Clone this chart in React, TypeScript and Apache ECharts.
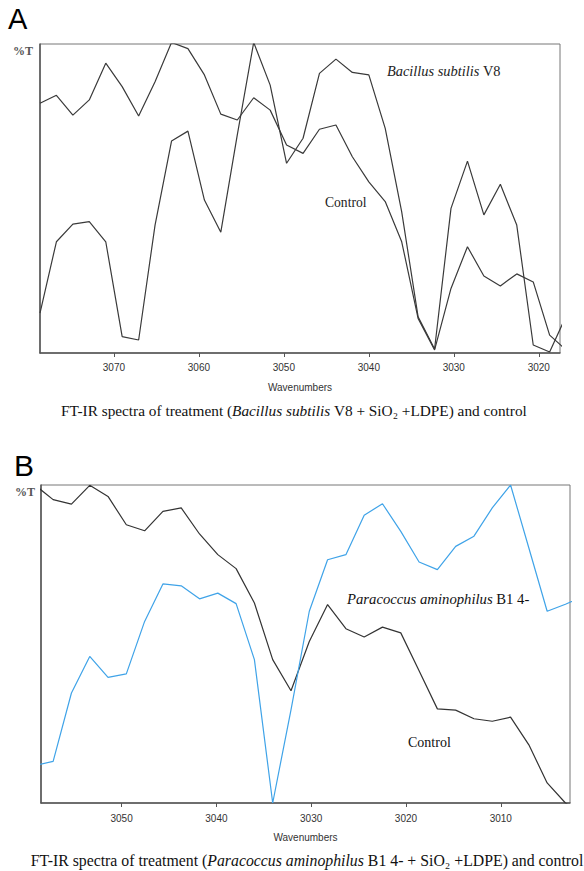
import React, { useEffect, useRef } from 'react';
import * as echarts from 'echarts';

// ---------- Panel A data (wavenumbers in cm-1, %T on a 0-100 scale) ----------
const A_WAVENUMBERS = [
  3078.70, 3076.77, 3074.83, 3072.90, 3070.96, 3069.03, 3067.09, 3065.16, 3063.22, 3061.29,
  3059.35, 3057.42, 3055.48, 3053.55, 3051.61, 3049.68, 3047.74, 3045.81, 3043.87, 3041.94,
  3040.00, 3038.07, 3036.13, 3034.20, 3032.26, 3030.33, 3028.39, 3026.46, 3024.52, 3022.59,
  3020.65, 3018.72, 3016.78,
];
const A_BACILLUS = [
  12.9, 36.0, 41.7, 42.5, 36.0, 5.3, 4.2, 41.4, 68.6, 71.8,
  49.5, 39.1, 70.6, 100.5, 86.7, 61.4, 69.5, 90.5, 95.1, 90.8,
  90.0, 72.7, 45.7, 11.7, 1.3, 46.8, 62.1, 44.7, 54.6, 41.4,
  2.6, 0.3, 12.0,
];
const A_CONTROL = [
  80.8, 83.4, 77.0, 81.9, 93.8, 86.2, 76.7, 87.8, 100.5, 98.5,
  90.0, 77.3, 75.4, 82.6, 78.6, 67.3, 64.6, 72.4, 73.8, 63.5,
  55.4, 49.0, 36.0, 11.2, 1.0, 20.9, 34.4, 24.9, 21.7, 25.6,
  23.0, 5.8, 1.0,
];
const A_TICKS = [3070, 3060, 3050, 3040, 3030, 3020];

// ---------- Panel B data ----------
const B_WAVENUMBERS = [
  3059.15, 3057.22, 3055.29, 3053.36, 3051.43, 3049.50, 3047.57, 3045.64, 3043.71, 3041.78,
  3039.85, 3037.92, 3035.99, 3034.06, 3032.13, 3030.20, 3028.27, 3026.34, 3024.41, 3022.48,
  3020.55, 3018.62, 3016.69, 3014.76, 3012.83, 3010.90, 3008.97, 3007.04, 3005.11, 3003.18,
  3001.25,
];
const B_PARACOCCUS = [
  11.8, 13.1, 34.6, 46.1, 39.5, 40.6, 57.1, 68.9, 68.3, 64.2,
  66.0, 62.7, 45.1, 0.0, 29.3, 60.3, 76.5, 78.1, 90.5, 94.1,
  85.4, 75.8, 73.4, 80.7, 83.9, 92.8, 100.0, 80.2, 60.3, 62.5,
  65.0,
];
const B_CONTROL = [
  100.0, 95.4, 94.0, 99.9, 96.4, 87.5, 85.6, 91.7, 92.8, 84.6,
  78.1, 73.7, 62.9, 45.1, 35.3, 50.8, 62.4, 54.8, 52.2, 55.3,
  53.5, 41.6, 29.6, 29.2, 26.5, 25.7, 27.0, 18.3, 6.3, 0.0,
  -4.0,
];
const B_TICKS = [3050, 3040, 3030, 3020, 3010];

const SANS = '"Liberation Sans", Arial, sans-serif';
const SERIF = '"Liberation Serif", "Times New Roman", serif';

const zip = (xs: number[], ys: number[]) => xs.map((x, i) => [x, ys[i]]);

function xAxisFor(grid: number, min: number, max: number, ticks: number[], margin: number) {
  return {
    type: 'value',
    gridIndex: grid,
    min,
    max,
    inverse: true,
    axisLine: { show: true, onZero: false, lineStyle: { color: '#555', width: 1.5 } },
    axisTick: { show: true, length: 4, customValues: ticks, lineStyle: { color: '#555', width: 1 } },
    axisLabel: {
      customValues: ticks,
      margin,
      fontSize: 10,
      fontFamily: SANS,
      color: '#333',
      formatter: (v: number) => String(Math.round(v)),
    },
    splitLine: { show: false },
    name: 'Wavenumbers',
    nameLocation: 'middle',
    nameGap: 29,
    nameTextStyle: { fontSize: 10, fontFamily: SANS, color: '#333' },
  };
}

function yAxisFor(grid: number) {
  return {
    type: 'value',
    gridIndex: grid,
    min: 0,
    max: 100,
    axisLine: { show: true, lineStyle: { color: '#555', width: 1.5 } },
    axisTick: { show: false },
    axisLabel: { show: false },
    splitLine: { show: false },
  };
}

function lineSeries(grid: number, data: number[][], color: string, name: string) {
  return {
    type: 'line',
    name,
    xAxisIndex: grid,
    yAxisIndex: grid,
    data,
    symbol: 'none',
    showSymbol: false,
    clip: true,
    silent: true,
    lineStyle: { color, width: 1.2 },
  };
}

function richText(x: number, y: number, text: string, size: number, fill: string, align = 'left') {
  return {
    type: 'text',
    x,
    y,
    style: {
      text,
      align,
      verticalAlign: 'middle',
      fill,
      fontSize: size,
      fontFamily: SERIF,
      rich: {
        i: { fontStyle: 'italic', fontSize: size, fontFamily: SERIF, fill },
        n: { fontSize: size, fontFamily: SERIF, fill },
      },
    },
  };
}

export default function App() {
  const ref = useRef<HTMLDivElement>(null);

  useEffect(() => {
    if (!ref.current) return;
    const chart = echarts.init(ref.current, undefined, { renderer: 'svg' });
    chart.setOption({
      animation: false,
      backgroundColor: '#ffffff',
      grid: [
        { left: 40, top: 44, width: 520, height: 309, show: true, borderColor: '#777', borderWidth: 1 },
        { left: 41, top: 485, width: 529, height: 318, show: true, borderColor: '#777', borderWidth: 1 },
      ],
      xAxis: [
        xAxisFor(0, 3017.5, 3078.7, A_TICKS, 9),
        xAxisFor(1, 3002.7, 3058.5, B_TICKS, 10),
      ],
      yAxis: [yAxisFor(0), yAxisFor(1)],
      series: [
        lineSeries(0, zip(A_WAVENUMBERS, A_BACILLUS), '#3a3a3a', 'Bacillus subtilis V8'),
        lineSeries(0, zip(A_WAVENUMBERS, A_CONTROL), '#3a3a3a', 'Control'),
        lineSeries(1, zip(B_WAVENUMBERS, B_CONTROL), '#333333', 'Control'),
        lineSeries(1, zip(B_WAVENUMBERS, B_PARACOCCUS), '#3fa3e8', 'Paracoccus aminophilus B1 4-'),
      ],
      graphic: [
        { type: 'text', x: 8, y: 19, style: { text: 'A', fontSize: 29, fontFamily: SANS, fill: '#000', align: 'left', verticalAlign: 'middle' } },
        { type: 'text', x: 14, y: 465, style: { text: 'B', fontSize: 30, fontFamily: SANS, fill: '#000', align: 'left', verticalAlign: 'middle' } },
        { type: 'text', x: 33, y: 51, style: { text: '%T', fontSize: 12, fontWeight: 'bold', fontFamily: SERIF, fill: '#555', align: 'right', verticalAlign: 'middle' } },
        { type: 'text', x: 35, y: 492, style: { text: '%T', fontSize: 12, fontWeight: 'bold', fontFamily: SERIF, fill: '#555', align: 'right', verticalAlign: 'middle' } },
        richText(387, 71, '{i|Bacillus subtilis} {n|V8}', 14.4, '#222'),
        { type: 'text', x: 325, y: 202, style: { text: 'Control', fontSize: 13.6, fontFamily: SERIF, fill: '#222', align: 'left', verticalAlign: 'middle' } },
        richText(347, 599, '{i|Paracoccus aminophilus} {n|B1 4-}', 14.7, '#111'),
        { type: 'text', x: 408, y: 742, style: { text: 'Control', fontSize: 14, fontFamily: SERIF, fill: '#111', align: 'left', verticalAlign: 'middle' } },
        richText(294, 410, '{n|FT-IR spectra of treatment (}{i|Bacillus subtilis}{n| V8 + SiO₂ +LDPE) and control}', 15.3, '#111', 'center'),
        richText(307, 860, '{n|FT-IR spectra of treatment (}{i|Paracoccus aminophilus}{n| B1 4- + SiO₂ +LDPE) and control}', 15.8, '#111', 'center'),
      ],
    });
    return () => chart.dispose();
  }, []);

  return (
    <div
      ref={ref}
      style={{ position: 'absolute', left: 0, top: 0, width: 584, height: 871, background: '#fff' }}
    />
  );
}
